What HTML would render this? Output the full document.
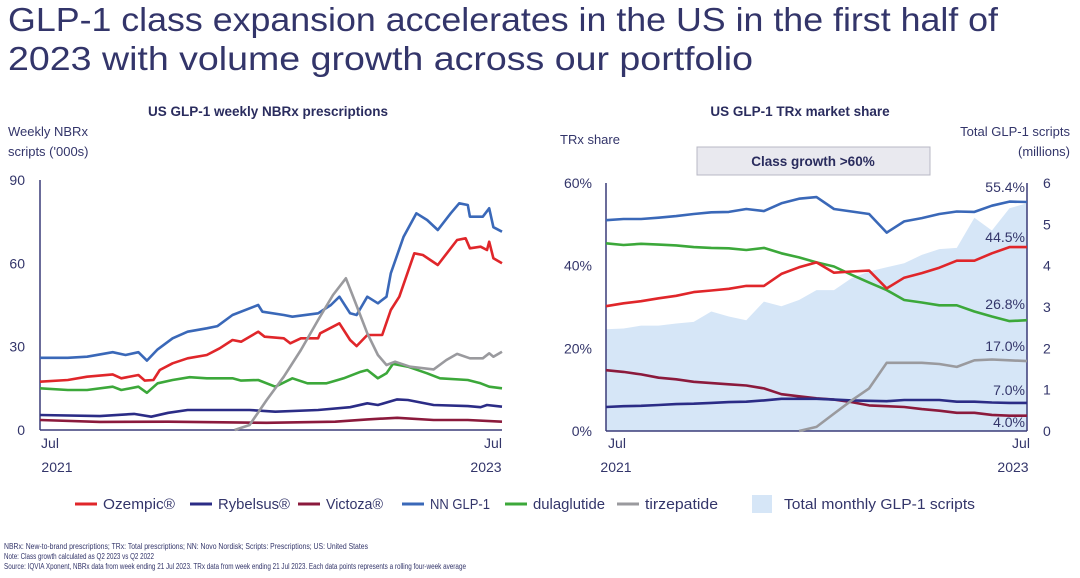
<!DOCTYPE html>
<html><head><meta charset="utf-8"><style>
html,body{margin:0;padding:0;background:#fff;}
svg{display:block;font-family:"Liberation Sans",sans-serif;}
</style></head><body>
<svg id="c" width="1080" height="578" viewBox="0 0 1080 578" xmlns="http://www.w3.org/2000/svg">
<text x="8" y="31" font-size="33" fill="#33356a" textLength="990" lengthAdjust="spacingAndGlyphs">GLP-1 class expansion accelerates in the US in the first half of</text>
<text x="8" y="70" font-size="33" fill="#33356a" textLength="745" lengthAdjust="spacingAndGlyphs">2023 with volume growth across our portfolio</text>
<text x="268" y="116" font-size="13.5" font-weight="bold" fill="#2a2c5e" text-anchor="middle">US GLP-1 weekly NBRx prescriptions</text>
<text x="8" y="136" font-size="13" fill="#33356a">Weekly NBRx</text>
<text x="8" y="156" font-size="13" fill="#33356a">scripts ('000s)</text>
<text x="800" y="116" font-size="13.5" font-weight="bold" fill="#2a2c5e" text-anchor="middle">US GLP-1 TRx market share</text>
<text x="560" y="144" font-size="13" fill="#33356a">TRx share</text>
<text x="1070" y="136" font-size="13" fill="#33356a" text-anchor="end">Total GLP-1 scripts</text>
<text x="1070" y="156" font-size="13" fill="#33356a" text-anchor="end">(millions)</text>
<rect x="697" y="147" width="233" height="28" fill="#e9e9ef" stroke="#b8b8c4"/>
<text x="813" y="166" font-size="13.5" font-weight="bold" fill="#2a2c5e" text-anchor="middle">Class growth &gt;60%</text>
<g id="left"></g>
<g id="right"></g>
<g font-size="15" fill="#33356a">
<line x1="75" y1="504" x2="97" y2="504" stroke="#e0262a" stroke-width="3"/><text x="103" y="509" textLength="72" lengthAdjust="spacingAndGlyphs">Ozempic®</text>
<line x1="190" y1="504" x2="212" y2="504" stroke="#2b2c86" stroke-width="3"/><text x="218" y="509" textLength="72" lengthAdjust="spacingAndGlyphs">Rybelsus®</text>
<line x1="298" y1="504" x2="320" y2="504" stroke="#8b1a3c" stroke-width="3"/><text x="326" y="509" textLength="57" lengthAdjust="spacingAndGlyphs">Victoza®</text>
<line x1="402" y1="504" x2="424" y2="504" stroke="#3a68b8" stroke-width="3"/><text x="430" y="509" textLength="60" lengthAdjust="spacingAndGlyphs">NN GLP-1</text>
<line x1="505" y1="504" x2="527" y2="504" stroke="#3ca83a" stroke-width="3"/><text x="533" y="509" textLength="72" lengthAdjust="spacingAndGlyphs">dulaglutide</text>
<line x1="617" y1="504" x2="639" y2="504" stroke="#9a9a9e" stroke-width="3"/><text x="645" y="509" textLength="73" lengthAdjust="spacingAndGlyphs">tirzepatide</text>
<rect x="752" y="495" width="20" height="18" fill="#d6e6f7"/><text x="784" y="509" textLength="191" lengthAdjust="spacingAndGlyphs">Total monthly GLP-1 scripts</text>
</g>
<g font-size="8" fill="#33356a">
<text x="4" y="549" textLength="364" lengthAdjust="spacingAndGlyphs">NBRx: New-to-brand prescriptions; TRx: Total prescriptions; NN: Novo Nordisk; Scripts: Prescriptions; US: United States</text>
<text x="4" y="559" textLength="150" lengthAdjust="spacingAndGlyphs">Note: Class growth calculated as Q2 2023 vs Q2 2022</text>
<text x="4" y="569" textLength="462" lengthAdjust="spacingAndGlyphs">Source: IQVIA Xponent, NBRx data from week ending 21 Jul 2023. TRx data from week ending 21 Jul 2023. Each data points represents a rolling four-week average</text>
</g>
</svg>
<script>
// ---- Left chart data (week index, value in '000s) ----
const leftTicks = [0, 30, 60, 90];
const nnWeeks = [0,6.5,11,17,20,23,25,27.5,31,34.5,39,41.5,45,51,52,57,59,65,68,70,72.5,74,76.5,79,81,82,85,88,90.5,93,96,98,100,100.5,103.5,105,106,108];
const nnVals = [26,26,26.4,28,27,28,25,29,33,35.4,36.6,37.4,41.4,45,42.6,41.4,40.8,42,45,48,42,41.4,48,45.6,48,56.4,69.6,78,75.6,72,78,81.6,81,76.8,76.8,79.8,73,71.4];
const ozWeeks = [0,6.5,11,17,19,23,24.5,26.5,28,31,34.5,39,42,45,47,51,52.5,57,58.5,61,65,65.5,70,72.5,74,76.5,80,82,84,87.5,89.5,93,97.5,99.5,100.5,103,104.5,105,106,108];
const ozVals = [17.4,18,19.2,20,18.6,19.8,17.8,18,21.6,24,25.8,27,29.4,32.4,31.8,35.4,33.6,33,31.2,33,33,34.8,38.4,32.4,30.2,34.2,34.2,43.2,48,63.6,63,59.4,68.4,69,65.4,66,64.8,67.8,61.8,60];
const dulaWeeks = [0,6.5,11,17,19,23,25,27.5,31,35,39,45,47,51,55,59,62.5,67,71,75,76.5,79,81,82.5,86,90.5,93.5,100,103,105,108];
const dulaVals = [15,14.4,14.4,15.6,14.4,15.6,13.4,16.8,18,19,18.6,18.6,17.8,18,15.6,18.6,16.8,16.8,18.6,21,21.6,18.6,20.4,23.8,22.8,20.4,18.6,18,16.8,15.6,15];
const rybWeeks = [0,14,22,26,30,34.5,49,55,65,72.5,76.5,79,83.5,86,92,100,103,104.5,108];
const rybVals = [5.4,5,5.8,4.8,6.2,7.2,7.2,6.6,7.2,8.2,9.6,9,11,10.8,9,8.6,8.2,9,8.4];
const vicWeeks = [0,14,30,53,69,76.5,83.5,92,100,108];
const vicVals = [3.6,2.9,3,2.6,3,3.8,4.4,3.6,3.6,3];
const tirWeeks = [45.5,49,53,57,61,65,68.5,71.5,73.5,76.5,79,81,83,86.5,92,95,97.5,100.5,103.5,105,106,108];
const tirVals = [0,1.8,10.8,19.2,28.8,39.6,48.6,54.6,46.8,34.8,27,23.4,24.6,22.8,21.8,25.2,27.4,25.8,25.8,27.6,26.4,28.2];

// ---- Right chart data (month index 0 = Jul 2021) ----
const rightTicks = [0, 20, 40, 60];
const rightTicks2 = [0, 1, 2, 3, 4, 5, 6];
const months = [0,1,2,3,4,5,6,7,8,9,10,11,12,13,14,15,16,17,18,19,20,21,22,23,24];
const nnShare = [51,51.3,51.3,51.6,52,52.5,52.9,53,53.7,53.2,55.1,56.2,56.6,53.7,53.1,52.5,48,50.7,51.5,52.5,53.1,53,54.5,55.5,55.4];
const ozShare = [30.2,30.9,31.4,32.1,32.7,33.6,34,34.4,35.1,35.1,38,39.6,40.8,38.3,38.6,38.8,34.5,37.1,38.2,39.5,41.2,41.2,43,44.5,44.5];
const dulaShare = [45.4,45,45.3,45.1,44.9,44.5,44.3,44.2,43.8,44.3,43,42,40.8,39.8,37.8,35.9,34.1,31.7,31.1,30.4,30.4,28.9,27.7,26.6,26.8];
const vicShare = [14.7,14.3,13.7,12.9,12.5,11.9,11.6,11.3,11,10.3,8.9,8.4,7.9,7.6,7,6.2,6,5.8,5.3,4.9,4.4,4.4,3.9,3.7,3.7];
const rybShare = [5.8,6,6.1,6.3,6.5,6.6,6.8,7,7.1,7.4,7.8,7.8,7.8,7.6,7.4,7.3,7.2,7.5,7.5,7.5,7.1,7.1,6.9,6.8,6.8];
const tirMonths = [11,12,13,14,15,16,17,18,19,20,21,22,23,24];
const tirShare = [0,1,4.2,7.4,10.3,16.5,16.5,16.5,16.2,15.5,17.1,17.3,17.1,16.9];
const totalScripts = [2.46,2.48,2.55,2.55,2.6,2.64,2.89,2.77,2.68,3.13,3.02,3.17,3.41,3.41,3.7,3.86,3.96,4.06,4.26,4.4,4.43,5.16,4.85,5.39,5.51];
const endLabels = ["55.4%","44.5%","26.8%","17.0%","7.0%","4.0%"];

const NS = "http://www.w3.org/2000/svg";
function mk(parent, tag, attrs){ const e=document.createElementNS(NS,tag); for(const k in attrs) e.setAttribute(k,attrs[k]); parent.appendChild(e); return e; }
const TXT = "#33356a", AX = "#3a3c78";

// Left axes
const L = {x0:40, x1:502, y0:430, y1:180, wmax:108, vmax:90};
const lx = w => L.x0 + (w/L.wmax)*(L.x1-L.x0);
const ly = v => L.y0 - (v/L.vmax)*(L.y0-L.y1);
const left = document.getElementById('left');
let e;
e = mk(left,'line',{x1:L.x0,y1:L.y1,x2:L.x0,y2:L.y0,stroke:AX,'stroke-width':1.5});
 
e = mk(left,'line',{x1:L.x0,y1:L.y0,x2:L.x1,y2:L.y0,stroke:AX,'stroke-width':1.5});
 
leftTicks.forEach(t=>{
  const tt = mk(left,'text',{x:25,y:ly(t)+5,'font-size':14,fill:TXT,'text-anchor':'end'});
  tt.textContent = t;
   
});
[["Jul",50,448],["2021",57,472],["Jul",493,448],["2023",486,472]].forEach(([s,x,y])=>{
  const tt = mk(left,'text',{x:x,y:y,'font-size':14,fill:TXT,'text-anchor':'middle'});
  tt.textContent = s;
   
});
function line(parent, xs, vs, fx, fy, color, name){
  const d = xs.map((x,i)=>(i?'L':'M')+fx(x).toFixed(1)+','+fy(vs[i]).toFixed(1)).join(' ');
  const p = mk(parent,'path',{d:d,fill:'none',stroke:color,'stroke-width':2.6,'stroke-linejoin':'round'});
  
  
}
line(left, vicWeeks, vicVals, lx, ly, '#8b1a3c', 'victoza-nbrx-line');
line(left, rybWeeks, rybVals, lx, ly, '#2b2c86', 'rybelsus-nbrx-line');
line(left, dulaWeeks, dulaVals, lx, ly, '#3ca83a', 'dulaglutide-nbrx-line');
line(left, ozWeeks, ozVals, lx, ly, '#e0262a', 'ozempic-nbrx-line');
line(left, nnWeeks, nnVals, lx, ly, '#3a68b8', 'nn-glp1-nbrx-line');
line(left, tirWeeks, tirVals, lx, ly, '#9a9a9e', 'tirzepatide-nbrx-line');

// Right axes
const R = {x0:606, x1:1027, y0:431, y1:183, mmax:24, vmax:60, v2max:6};
const rx = m => R.x0 + (m/R.mmax)*(R.x1-R.x0);
const ry = v => R.y0 - (v/R.vmax)*(R.y0-R.y1);
const ry2 = v => R.y0 - (v/R.v2max)*(R.y0-R.y1);
const right = document.getElementById('right');
const ad = 'M'+rx(0)+','+R.y0+' '+months.map((m,i)=>'L'+rx(m).toFixed(1)+','+ry2(totalScripts[i]).toFixed(1)).join(' ')+' L'+rx(24)+','+R.y0+' Z';
e = mk(right,'path',{d:ad,fill:'#d6e6f7'});
 
e = mk(right,'line',{x1:R.x0,y1:R.y1,x2:R.x0,y2:R.y0,stroke:AX,'stroke-width':1.5});
 
e = mk(right,'line',{x1:R.x1,y1:R.y1,x2:R.x1,y2:R.y0,stroke:AX,'stroke-width':1.5});
 
e = mk(right,'line',{x1:R.x0,y1:R.y0,x2:R.x1,y2:R.y0,stroke:AX,'stroke-width':1.5});
 
rightTicks.forEach(t=>{
  const tt = mk(right,'text',{x:592,y:ry(t)+5,'font-size':14,fill:TXT,'text-anchor':'end'});
  tt.textContent = t+'%';
   
});
rightTicks2.forEach(t=>{
  const tt = mk(right,'text',{x:1043,y:ry2(t)+5,'font-size':14,fill:TXT});
  tt.textContent = t;
   
});
[["Jul",617,448],["2021",616,472],["Jul",1021,448],["2023",1013,472]].forEach(([s,x,y])=>{
  const tt = mk(right,'text',{x:x,y:y,'font-size':14,fill:TXT,'text-anchor':'middle'});
  tt.textContent = s;
   
});
line(right, months, vicShare, rx, ry, '#8b1a3c', 'victoza-share-line');
line(right, months, rybShare, rx, ry, '#2b2c86', 'rybelsus-share-line');
line(right, months, dulaShare, rx, ry, '#3ca83a', 'dulaglutide-share-line');
line(right, months, ozShare, rx, ry, '#e0262a', 'ozempic-share-line');
line(right, months, nnShare, rx, ry, '#3a68b8', 'nn-glp1-share-line');
line(right, tirMonths, tirShare, rx, ry, '#9a9a9e', 'tirzepatide-share-line');
const labelY = [195, 245, 312, 354, 398, 430];
endLabels.forEach((s,i)=>{
  const tt = mk(right,'text',{x:1025,y:labelY[i]-3,'font-size':14,fill:TXT,'text-anchor':'end'});
  tt.textContent = s;
   
});
</script>
</body></html>
